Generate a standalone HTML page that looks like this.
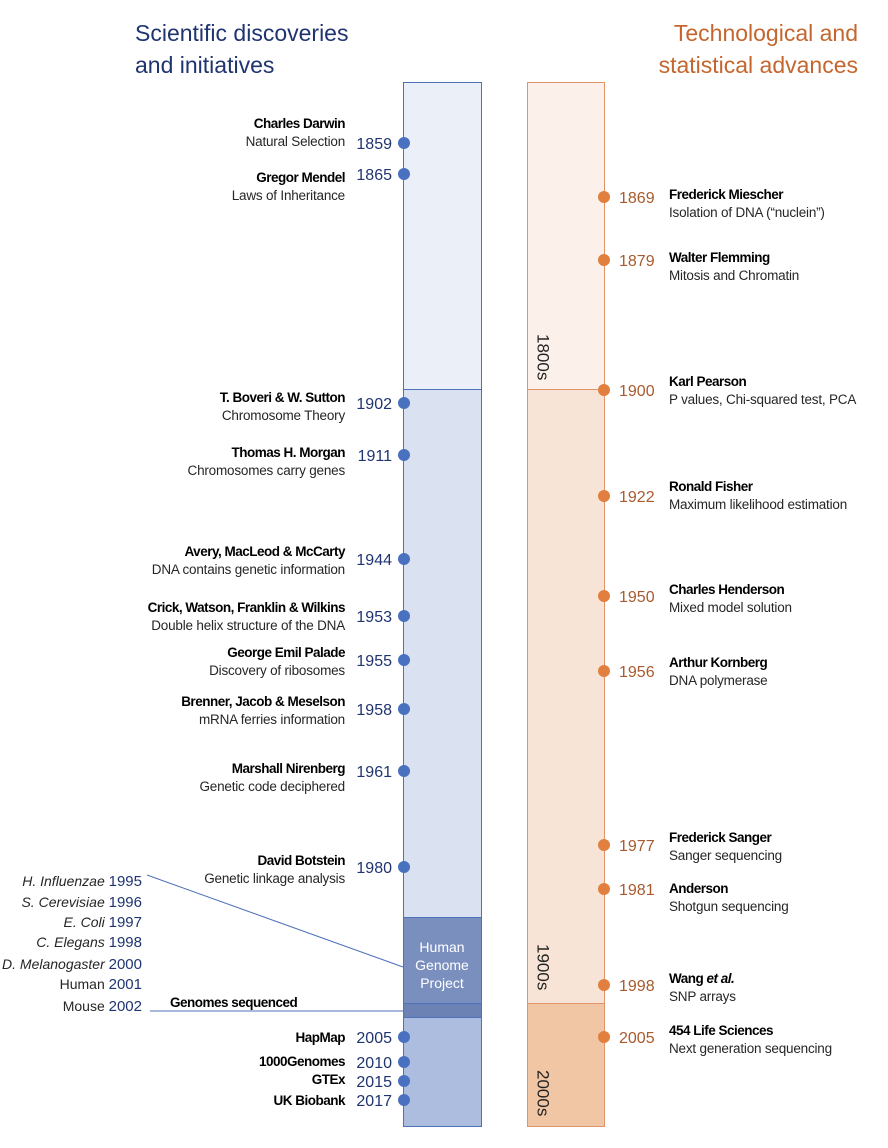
<!DOCTYPE html>
<html><head><meta charset="utf-8">
<style>
html,body{margin:0;padding:0;background:#fff;}
svg{display:block;font-family:"Liberation Sans",sans-serif;}
.t{font-size:13.5px;font-weight:bold;fill:#000;letter-spacing:-0.5px;}
.d{font-size:13.5px;fill:#262626;letter-spacing:-0.2px;}
.yl{font-size:16px;fill:#1f3470;}
.yr{font-size:16px;fill:#a85a2e;}
.g{font-size:14px;fill:#262626;}
</style></head>
<body>
<svg width="888" height="1148" viewBox="0 0 888 1148">
<g>
<text x="135" y="41" font-size="23" fill="#1f3470">Scientific discoveries</text>
<text x="135" y="73" font-size="23" fill="#1f3470">and initiatives</text>
<text x="858" y="41" font-size="23" fill="#c5662e" text-anchor="end">Technological and</text>
<text x="858" y="73" font-size="23" fill="#c5662e" text-anchor="end">statistical advances</text>
</g>
<g>
<rect x="403.5" y="82.5" width="78" height="307" fill="#ebf0f8" stroke="#4f71b8"/>
<rect x="403.5" y="389.5" width="78" height="528" fill="#dae2f2" stroke="#4f71b8"/>
<rect x="403.5" y="917.5" width="78" height="86" fill="#7b8fbf" stroke="#4f71b8"/>
<rect x="403.5" y="1003.5" width="78" height="14" fill="#6c82b4" stroke="#4f71b8"/>
<rect x="403.5" y="1017.5" width="78" height="109" fill="#adbde0" stroke="#4f71b8"/>
<text x="442" y="952" font-size="14" fill="#fff" text-anchor="middle">Human</text>
<text x="442" y="970" font-size="14" fill="#fff" text-anchor="middle">Genome</text>
<text x="442" y="988" font-size="14" fill="#fff" text-anchor="middle">Project</text>
</g>
<g>
<rect x="527.5" y="82.5" width="77" height="307" fill="#fcf1ea" stroke="#e0946a"/>
<rect x="527.5" y="389.5" width="77" height="614" fill="#f8e4d7" stroke="#e0946a"/>
<rect x="527.5" y="1003.5" width="77" height="123" fill="#f1c6a4" stroke="#e0946a"/>
<text x="543" y="334" font-size="17" fill="#222" style="writing-mode:vertical-rl">1800s</text>
<text x="543" y="944" font-size="17" fill="#222" style="writing-mode:vertical-rl">1900s</text>
<text x="543" y="1070" font-size="17" fill="#222" style="writing-mode:vertical-rl">2000s</text>
</g>
<g id="left"></g>
<g id="right"></g>
<g>
<line x1="147" y1="875" x2="403" y2="967" stroke="#4f71b8" stroke-width="1"/>
<line x1="150" y1="1011" x2="403" y2="1011" stroke="#4f71b8" stroke-width="1"/>
<text x="170" y="1007" class="t">Genomes sequenced</text>
</g>
<g id="genomes"></g>
</svg>
<script>
const leftYears=["1859","1865","1902","1911","1944","1953","1955","1958","1961","1980","2005","2010","2015","2017"];
const leftTitles=["Charles Darwin","Gregor Mendel","T. Boveri & W. Sutton","Thomas  H. Morgan","Avery,  MacLeod & McCarty","Crick, Watson, Franklin & Wilkins","George Emil Palade","Brenner, Jacob & Meselson","Marshall Nirenberg","David Botstein","HapMap","1000Genomes","GTEx","UK Biobank"];
const leftDescs=["Natural Selection","Laws of Inheritance","Chromosome Theory","Chromosomes carry genes","DNA contains genetic information","Double helix structure of the DNA","Discovery of ribosomes","mRNA ferries information","Genetic code deciphered","Genetic linkage analysis","","","",""];
const leftDotY=[143,174,403,455,559,616,660,709,771,867,1037,1062,1081,1100];
const leftTitleY=[123,177,397,452,551,607,652,701,768,860,1037,1061,1079,1100];
const rightYears=["1869","1879","1900","1922","1950","1956","1977","1981","1998","2005"];
const rightTitles=["Frederick Miescher","Walter Flemming","Karl Pearson","Ronald Fisher","Charles Henderson","Arthur Kornberg","Frederick Sanger","Anderson","Wang et al.","454 Life Sciences"];
const rightDescs=["Isolation of DNA (\u201cnuclein\u201d)","Mitosis and Chromatin","P values, Chi-squared test, PCA","Maximum likelihood estimation","Mixed model solution","DNA polymerase","Sanger sequencing","Shotgun sequencing","SNP arrays","Next generation sequencing"];
const rightDotY=[197,260,390,496,596,671,845,889,985,1037];
const rightTitleY=[194,257,381,486,589,662,837,888,978,1030];
const genomeNames=["H. Influenzae","S. Cerevisiae","E. Coli","C. Elegans","D. Melanogaster","Human","Mouse"];
const genomeYears=["1995","1996","1997","1998","2000","2001","2002"];
const genomeItalic=[true,true,true,true,true,false,false];
const genomeY=[881,902,922,942,964,984,1006];
const NS="http://www.w3.org/2000/svg";
function mk(tag,attrs,txt){const e=document.createElementNS(NS,tag);for(const k in attrs)e.setAttribute(k,attrs[k]);if(txt!==undefined)e.textContent=txt;return e;}
const L=document.getElementById('left');
leftYears.forEach((y,i)=>{
  const c=mk('circle',{cx:404,cy:leftDotY[i],r:6,fill:'#4a70c0'});
  
  
  L.appendChild(c);
  const yt=mk('text',{x:392,y:leftDotY[i]+6,'text-anchor':'end','class':'yl'},y);
  
  
  L.appendChild(yt);
  const t=mk('text',{x:345,y:leftTitleY[i]+5,'text-anchor':'end','class':'t'},leftTitles[i]);
  
  
  L.appendChild(t);
  if(leftDescs[i]){
    const d=mk('text',{x:345,y:leftTitleY[i]+23,'text-anchor':'end','class':'d'},leftDescs[i]);
    
    
    L.appendChild(d);
  }
});
const R=document.getElementById('right');
rightYears.forEach((y,i)=>{
  const c=mk('circle',{cx:604,cy:rightDotY[i],r:6,fill:'#e07f3e'});
  
  
  R.appendChild(c);
  const yt=mk('text',{x:619,y:rightDotY[i]+6,'class':'yr'},y);
  
  
  R.appendChild(yt);
  const t=mk('text',{x:669,y:rightTitleY[i]+5,'class':'t'});
  
  
  if(rightTitles[i]==="Wang et al."){
    t.appendChild(mk('tspan',{},'Wang '));
    t.appendChild(mk('tspan',{'font-style':'italic'},'et al.'));
  } else t.textContent=rightTitles[i];
  R.appendChild(t);
  const d=mk('text',{x:669,y:rightTitleY[i]+23,'class':'d'},rightDescs[i]);
  
  
  R.appendChild(d);
});
const G=document.getElementById('genomes');
genomeNames.forEach((n,i)=>{
  const t=mk('text',{x:142,y:genomeY[i]+5,'text-anchor':'end','class':'g'});
  
  
  const a=mk('tspan',{},n+' ');
  if(genomeItalic[i])a.setAttribute('font-style','italic');
  t.appendChild(a);
  t.appendChild(mk('tspan',{fill:'#1f3470','font-size':'15'},genomeYears[i]));
  G.appendChild(t);
});
</script>
</body></html>
